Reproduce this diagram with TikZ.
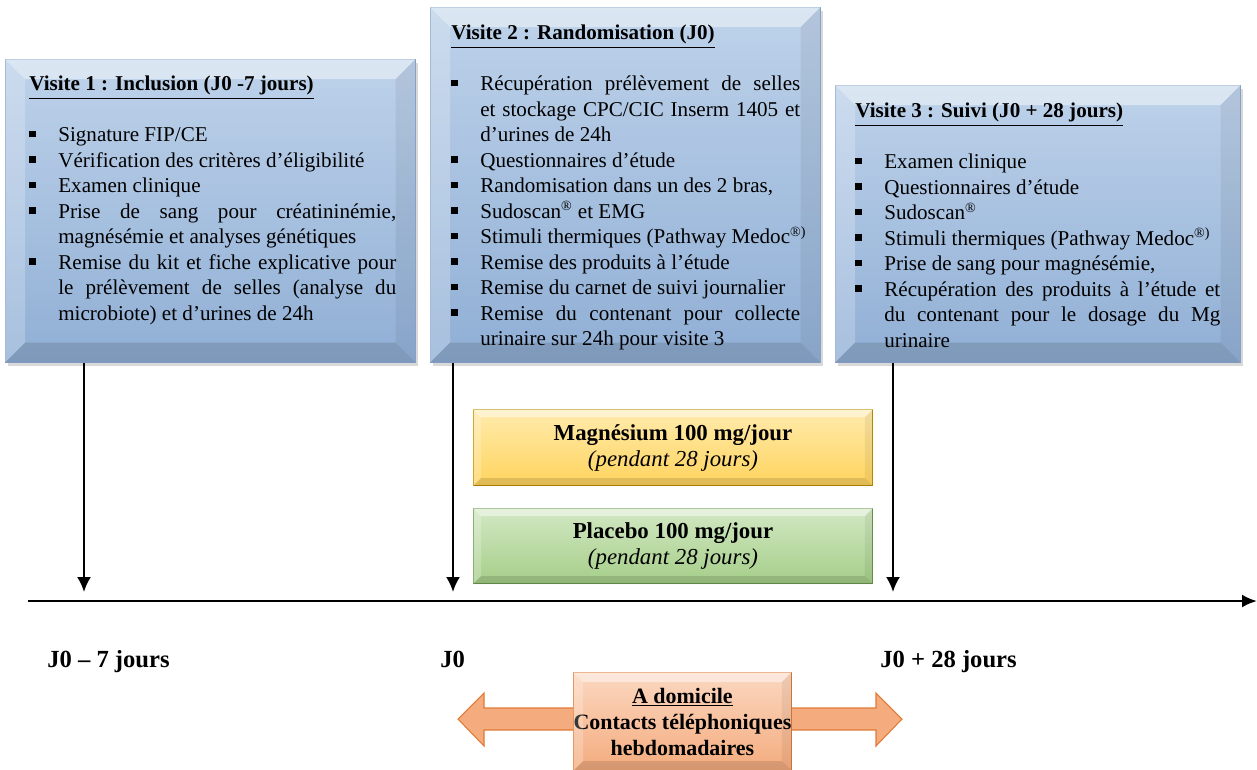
\documentclass[tikz,border=0pt]{standalone}
\usepackage{fontspec}
\setmainfont{Liberation Serif}
\usetikzlibrary{calc,arrows.meta,shadows}

\definecolor{bleuhaut}{HTML}{BED2EA}
\definecolor{bleubas}{HTML}{90AFD5}
\definecolor{bleutrait}{HTML}{8AA8CF}
\definecolor{jaunehaut}{HTML}{FFEBAD}
\definecolor{jaunebas}{HTML}{FFD45E}
\definecolor{jaunetrait}{HTML}{BF9000}
\definecolor{verthaut}{HTML}{D2E8C3}
\definecolor{vertbas}{HTML}{A5CE89}
\definecolor{verttrait}{HTML}{6B9A4C}
\definecolor{orangehaut}{HTML}{FBD7C0}
\definecolor{orangebas}{HTML}{F4AC7E}
\definecolor{orangetrait}{HTML}{E07A36}

\newlength{\retrait}
\setlength{\retrait}{16.5pt}
\newdimen\pucedp
\newcommand{\puce}[1]{\par\noindent\makebox[\retrait][l]{\raisebox{.22em}{\rule{.3em}{.3em}}}%
  \parbox[t]{\dimexpr\hsize-\retrait\relax}{#1\par\global\pucedp=\prevdepth}\par\prevdepth=\pucedp}
\newcommand{\titre}[1]{\noindent\underline{\textbf{#1}}\par\vspace{\baselineskip}}
% effet biseau sur une boite
\newcommand{\biseau}[2]{%
  \fill[white,opacity=.45] (#1.north west) -- (#1.north east) -- ($(#1.north east)+(-#2,#2)$) -- ($(#1.north west)+(#2,#2)$) -- cycle;
  \fill[white,opacity=.22] (#1.north west) -- ($(#1.north west)+(#2,#2)$) -- ($(#1.south west)+(#2,-#2)$) -- (#1.south west) -- cycle;
  \fill[black,opacity=.12] (#1.south west) -- ($(#1.south west)+(#2,-#2)$) -- ($(#1.south east)+(-#2,-#2)$) -- (#1.south east) -- cycle;
  \fill[black,opacity=.06] (#1.north east) -- ($(#1.north east)+(-#2,#2)$) -- ($(#1.south east)+(-#2,-#2)$) -- (#1.south east) -- cycle;}

\tikzset{
  boite/.style={draw=bleutrait, line width=.4pt, top color=bleuhaut, bottom color=bleubas,
    drop shadow={shadow xshift=.05cm, shadow yshift=-.07cm, opacity=.3}, anchor=north west, inner sep=0pt},
  liste/.style={anchor=north west, inner sep=0pt, align=justify, font=\fontsize{12}{14.5}\selectfont},
  bras/.style={draw=#1trait, line width=.6pt, top color=#1haut, bottom color=#1bas, anchor=north west,
    inner sep=0pt, align=center, font=\fontsize{13}{14.8}\selectfont},
  date/.style={anchor=base west, inner sep=0pt, font=\fontsize{14}{16}\selectfont\bfseries},
  fleche/.style={line width=1.2pt, -{Latex[length=.3cm,width=.28cm]}},
}

\begin{document}
\begin{tikzpicture}[x=0.02cm,y=-0.02cm]
  \useasboundingbox (0,0) rectangle (1257,769);
  \pgfmathsetmacro{\yaxe}{601}
  \pgfmathsetmacro{\ypointe}{592}
  \pgfmathsetmacro{\ydate}{667}

  % les trois visites
  \node[boite, minimum width=8.2cm, minimum height=6.06cm] (b1) at (5,59) {};
  \node[boite, minimum width=7.8cm, minimum height=7.1cm] (b2) at (430,7) {};
  \node[boite, minimum width=8.1cm, minimum height=5.54cm] (b3) at (835,85) {};
  \foreach \n in {1,2,3} {\biseau{b\n}{20}}

  \node[liste, text width=7.34cm] (t1) at (29,76) {%
    \titre{Visite 1 : Inclusion (J0 -7 jours)}
    \puce{Signature FIP/CE}
    \puce{Vérification des critères d’éligibilité}
    \puce{Examen clinique}
    \puce{Prise de sang pour créatininémie,\linebreak magnésémie et analyses génétiques}
    \puce{Remise du kit et fiche explicative pour\linebreak le prélèvement de selles (analyse du\linebreak microbiote) et d’urines de 24h}};

  \node[liste, text width=6.98cm] (t2) at (451,25) {%
    \titre{Visite 2 : Randomisation (J0)}
    \puce{Récupération prélèvement de selles\linebreak et stockage CPC/CIC Inserm 1405 et\linebreak d’urines de 24h}
    \puce{Questionnaires d’étude}
    \puce{Randomisation dans un des 2 bras,}
    \puce{Sudoscan\textsuperscript{®} et EMG}
    \puce{\mbox{Stimuli thermiques (Pathway Medoc\textsuperscript{®)}}}
    \puce{Remise des produits à l’étude}
    \puce{Remise du carnet de suivi journalier}
    \puce{Remise du contenant pour collecte\linebreak urinaire sur 24h pour visite 3}};

  \node[liste, text width=7.3cm] (t3) at (855,103) {%
    \titre{Visite 3 : Suivi (J0 + 28 jours)}
    \puce{Examen clinique}
    \puce{Questionnaires d’étude}
    \puce{Sudoscan\textsuperscript{®}}
    \puce{Stimuli thermiques (Pathway Medoc\textsuperscript{®)}}
    \puce{Prise de sang pour magnésémie,}
    \puce{Récupération des produits à l’étude et\linebreak du contenant pour le dosage du Mg\linebreak urinaire}};

  % les deux bras
  \node[bras=jaune, minimum width=7.98cm, minimum height=1.52cm] (mg) at (473,409)
    {\textbf{Magnésium 100 mg/jour}\\\textit{(pendant 28 jours)}};
  \node[bras=vert, minimum width=7.98cm, minimum height=1.5cm] (pl) at (473,508)
    {\textbf{Placebo 100 mg/jour}\\\textit{(pendant 28 jours)}};
  \biseau{mg}{8}
  \biseau{pl}{8}

  % axe du temps
  \coordinate (debut) at (28,\yaxe);
  \coordinate (fin) at (1257,\yaxe);
  \draw[line width=1.4pt, -{Latex[length=.3cm,width=.26cm]}] (debut) -- (fin);
  \foreach \x/\n in {84/1,453/2,893/3} {
    \coordinate (p\n) at (\x,\ypointe);
    \draw[fleche] (b\n.south -| p\n) -- (p\n);
  }
  \node[date] (d1) at (47,\ydate) {J0 – 7 jours};
  \node[date] (d2) at (440,\ydate) {J0};
  \node[date] (d3) at (880,\ydate) {J0 + 28 jours};

  % a domicile
  \path[draw=orangetrait, line width=.6pt, top color=orangebas, middle color=orangehaut!60!white, bottom color=orangebas]
    (458,719) -- (484,693) -- (484,708) -- (876,708) -- (876,693) -- (902,719)
    -- (876,746) -- (876,730) -- (484,730) -- (484,746) -- cycle;
  \node[bras=orange, minimum width=4.3cm, minimum height=1.96cm, font=\fontsize{12.5}{14.8}\selectfont\bfseries] (dom) at (573,672)
    {\underline{A domicile}\\Contacts téléphoniques\\hebdomadaires};
  \biseau{dom}{10}
\end{tikzpicture}
\end{document}
